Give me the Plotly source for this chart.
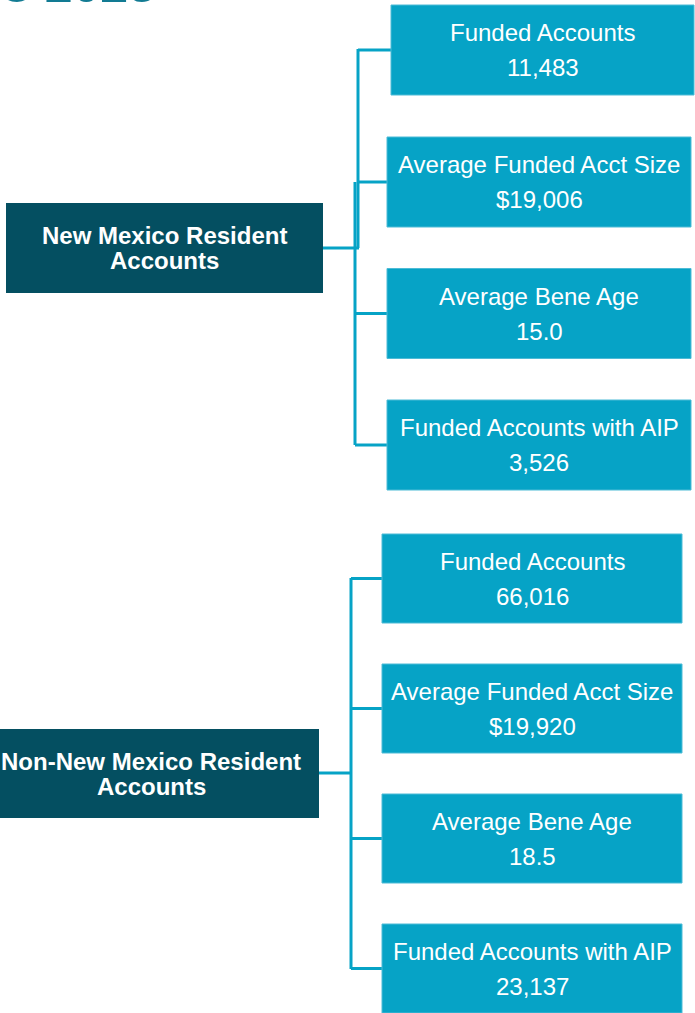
import plotly.graph_objects as go

# ---------------- data ----------------
group_names = [["New Mexico Resident", "Accounts"],
               ["Non-New Mexico Resident", "Accounts"]]
metric_labels = ["Funded Accounts", "Average Funded Acct Size",
                 "Average Bene Age", "Funded Accounts with AIP"]
nm_values = [11483, 19006, 15.0, 3526]
non_nm_values = [66016, 19920, 18.5, 23137]
value_formats = ["{:,.0f}", "${:,.0f}", "{:.1f}", "{:,.0f}"]
title_fragment = "s 2023"

# ---------------- style / layout ----------------
W, H = 695, 1013
LIGHT = "#06A3C6"
LIGHT_EDGE = "#4DBBD6"
DARK = "#044F61"
TITLE_C = "#127B93"
FONT = "Liberation Sans"
LW = 3

# per-group geometry (pixel space)
groups = [
    dict(values=nm_values,
         head_x=(6, 323), head_y=(203, 293), head_text_x=164.5,
         box_x=[(391, 694), (387, 691), (387, 691), (387, 691)],
         box_cy=[50, 182, 313.5, 445], box_h=90,
         trunk=[(358, 49, 248), (355, 182, 445)], link_y=248),
    dict(values=non_nm_values,
         head_x=(-17, 319), head_y=(729, 818), head_text_x=151,
         box_x=[(382, 682)] * 4,
         box_cy=[578.5, 708.5, 838.5, 968.5], box_h=89,
         trunk=[(351, 578, 969)], link_y=773),
]

shapes = []
annotations = []


def line(x0, y0, x1, y1):
    shapes.append(dict(type="line", xref="x", yref="y", x0=x0, y0=y0, x1=x1, y1=y1,
                       line=dict(color=LIGHT, width=LW), layer="below"))


def rect(x0, y0, x1, y1, color, edge=None):
    shapes.append(dict(type="rect", xref="x", yref="y", x0=x0, y0=y0, x1=x1, y1=y1,
                       fillcolor=color,
                       line=(dict(color=edge, width=1) if edge else dict(width=0)),
                       layer="above"))


def text(x, y, s, size, bold=False, color="white", xanchor="center"):
    annotations.append(dict(xref="x", yref="y", x=x, y=y, text=(f"<b>{s}</b>" if bold else s),
                            showarrow=False, xanchor=xanchor, yanchor="middle",
                            font=dict(family=FONT, size=size, color=color)))


for gi, g in enumerate(groups):
    hx0, hx1 = g["head_x"]
    trunk_x_main = g["trunk"][0][0]
    line(hx1, g["link_y"], trunk_x_main + 1, g["link_y"])
    for tx, ty0, ty1 in g["trunk"]:
        line(tx, ty0, tx, ty1)
    for i, cy in enumerate(g["box_cy"]):
        tx = [t[0] for t in g["trunk"] if t[1] - 1 <= cy <= t[2] + 1][0]
        line(tx, cy, g["box_x"][i][0], cy)
    hy0, hy1 = g["head_y"]
    rect(hx0, hy0, hx1, hy1, DARK)
    hc = (hy0 + hy1) / 2
    text(g["head_text_x"], hc - 12.5, group_names[gi][0], 24, bold=True)
    text(g["head_text_x"], hc + 12.5, group_names[gi][1], 24, bold=True)
    for i, cy in enumerate(g["box_cy"]):
        bx0, bx1 = g["box_x"][i]
        rect(bx0, cy - g["box_h"] / 2, bx1, cy + g["box_h"] / 2, LIGHT, LIGHT_EDGE)
        cx = (bx0 + bx1) / 2
        text(cx, cy - 17.5, metric_labels[i], 24)
        text(cx, cy + 17.5, value_formats[i].format(g["values"][i]), 24)

# cut-off title at the very top (only its lowest pixels are inside the page)
annotations.append(dict(xref="paper", yref="paper", x=158 / W, y=1 + 15.5 / H,
                        text=f"<b>{title_fragment}</b>",
                        showarrow=False, xanchor="right", yanchor="middle",
                        font=dict(family=FONT, size=50, color=TITLE_C)))

fig = go.Figure()
fig.add_trace(go.Scatter(x=[0, W], y=[0, H], mode="markers",
                         marker=dict(opacity=0), hoverinfo="skip", showlegend=False))
fig.update_layout(
    width=W, height=H,
    margin=dict(l=0, r=0, t=0, b=0),
    paper_bgcolor="white", plot_bgcolor="white",
    xaxis=dict(range=[0, W], visible=False, fixedrange=True),
    yaxis=dict(range=[H, 0], visible=False, fixedrange=True),
    shapes=shapes, annotations=annotations,
    showlegend=False,
)
fig.write_html("out.html", config={"displayModeBar": False},
               post_script="document.body.style.margin='0';document.body.style.overflow='hidden';")
